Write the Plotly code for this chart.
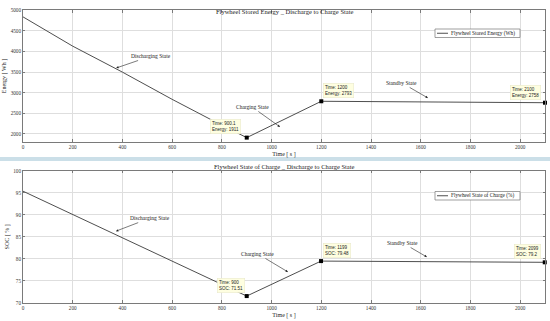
import plotly.graph_objects as go

# ---------------- data ----------------
time_s = [0, 200, 400, 600, 800, 900.1, 1200, 2100]
energy_wh = [4840, 4130, 3500, 2840, 2210, 1911, 2793, 2758]

time_soc = [0, 200, 400, 600, 800, 900, 1199, 2099]
soc_pct = [95.4, 90.1, 84.8, 79.5, 74.2, 71.51, 79.48, 79.2]

tip_time_e = [900.1, 1200, 2100]
tip_energy = [1911, 2793, 2758]
tip_time_s = [900, 1199, 2099]
tip_soc = [71.51, 79.48, 79.2]

x_ticks = list(range(0, 2001, 200))
e_ticks = [2000, 2500, 3000, 3500, 4000, 4500, 5000]
s_ticks = [70, 75, 80, 85, 90, 95, 100]

title_top = "Flywheel Stored Energy _ Discharge to Charge State"
title_bot = "Flywheel State of Charge _ Discharge to Charge State"
legend_top = "Flywheel Stored Energy (Wh)"
legend_bot = "Flywheel State of Charge (%)"

W, H = 550, 321
FONT = "Liberation Serif"
LINE = "#3a3a3a"
GRID = "#dedede"
AX = "#7a7a7a"


def px(x):
    return x / W


def py(y):
    return 1 - y / H


fig = go.Figure()
fig.add_trace(go.Scatter(x=time_s, y=energy_wh, mode="lines",
                         line=dict(color=LINE, width=0.9), xaxis="x", yaxis="y",
                         showlegend=False))
fig.add_trace(go.Scatter(x=tip_time_e, y=tip_energy, mode="markers",
                         marker=dict(symbol="square", size=4, color="black"),
                         xaxis="x", yaxis="y", showlegend=False, cliponaxis=False))
fig.add_trace(go.Scatter(x=time_soc, y=soc_pct, mode="lines",
                         line=dict(color=LINE, width=0.9), xaxis="x2", yaxis="y2",
                         showlegend=False))
fig.add_trace(go.Scatter(x=tip_time_s, y=tip_soc, mode="markers",
                         marker=dict(symbol="square", size=4, color="black"),
                         xaxis="x2", yaxis="y2", showlegend=False, cliponaxis=False))

axis_common = dict(showgrid=True, gridcolor=GRID, gridwidth=0.8, automargin=False,
                   showline=True, linecolor=AX, linewidth=0.8, mirror="ticks",
                   ticks="inside", ticklen=2.5, tickcolor=AX, tickwidth=0.8,
                   zeroline=False, tickfont=dict(family=FONT, size=5.2, color="#333"))

xdom = [px(23), px(545)]
fig.update_layout(
    width=W, height=H, margin=dict(l=0, r=0, t=0, b=0),
    paper_bgcolor="white", plot_bgcolor="white",
    font=dict(family=FONT, color="#222"),
    xaxis=dict(domain=xdom, range=[0, 2100], tickvals=x_ticks, anchor="y",
               title=dict(text="Time [ s ]", font=dict(size=6, family=FONT, color="#222"), standoff=2),
               **axis_common),
    yaxis=dict(domain=[py(141.7), py(10.3)], range=[1812, 5000], tickvals=e_ticks,
               anchor="x",
               title=dict(text="Energy [ Wh ]", font=dict(size=6, family=FONT, color="#222"), standoff=3),
               **axis_common),
    xaxis2=dict(domain=xdom, range=[0, 2100], tickvals=x_ticks, anchor="y2",
                title=dict(text="Time [ s ]", font=dict(size=6, family=FONT, color="#222"), standoff=2),
                **axis_common),
    yaxis2=dict(domain=[py(302.7), py(171)], range=[70, 100], tickvals=s_ticks,
                anchor="x2",
                title=dict(text="SOC [ % ]", font=dict(size=6, family=FONT, color="#222"), standoff=3),
                **axis_common),
)

shapes = []
annots = []

# divider band
shapes.append(dict(type="rect", xref="paper", yref="paper", x0=0, x1=1,
                   y0=py(161), y1=py(157), fillcolor="#cbdfe8", line=dict(width=0),
                   layer="below"))

# titles
annots.append(dict(xref="paper", yref="paper", x=px(284), y=py(6), text=title_top,
                   showarrow=False, font=dict(size=6.5, family=FONT, color="#222")))
annots.append(dict(xref="paper", yref="paper", x=px(284), y=py(166.5), text=title_bot,
                   showarrow=False, font=dict(size=6.5, family=FONT, color="#222")))

# legends (manual boxes)
for (y0, y1, txt) in [(29, 37.5, legend_top), (191.5, 200, legend_bot)]:
    shapes.append(dict(type="rect", xref="paper", yref="paper", x0=px(435), x1=px(520),
                       y0=py(y1), y1=py(y0), fillcolor="white",
                       line=dict(color="#777", width=0.7)))
    ym = (y0 + y1) / 2
    shapes.append(dict(type="line", xref="paper", yref="paper", x0=px(437), x1=px(448),
                       y0=py(ym), y1=py(ym), line=dict(color=LINE, width=0.9)))
    annots.append(dict(xref="paper", yref="paper", x=px(449), y=py(ym), text=txt,
                       xanchor="left", yanchor="middle", showarrow=False,
                       font=dict(size=5.3, family=FONT, color="#222")))

# state annotations with arrows
arrow_font = dict(size=5.5, family=FONT, color="#222")
state_notes = [
    ("x", "y", 375, 3600, "Discharging State", 35, -12),
    ("x", "y", 1034, 2170, "Charging State", -28, -20),
    ("x", "y", 1629, 2873, "Standby State", -26, -15),
    ("x2", "y2", 374, 86.3, "Discharging State", 34, -13),
    ("x2", "y2", 1066, 77.0, "Charging State", -30, -18),
    ("x2", "y2", 1625, 80.4, "Standby State", -24, -14),
]
for xr, yr, x, y, t, ax, ay in state_notes:
    annots.append(dict(xref=xr, yref=yr, x=x, y=y, text=t, showarrow=True,
                       ax=ax, ay=ay, arrowhead=2, arrowsize=0.8, arrowwidth=0.6,
                       arrowcolor="#222", font=arrow_font))

# data tips
tip_font = dict(size=4.5, family="Liberation Sans", color="#222")
tips = [
    ("x", "y", tip_time_e[0], tip_energy[0], f"Time: {tip_time_e[0]}<br>Energy: {tip_energy[0]}", "right", -6, 4),
    ("x", "y", tip_time_e[1], tip_energy[1], f"Time: {tip_time_e[1]}<br>Energy: {tip_energy[1]}", "left", 2, 3),
    ("x", "y", tip_time_e[2], tip_energy[2], f"Time: {tip_time_e[2]}<br>Energy: {tip_energy[2]}", "right", -4, 3),
    ("x2", "y2", tip_time_s[0], tip_soc[0], f"Time: {tip_time_s[0]}<br>SOC: {tip_soc[0]}", "right", -2, 3),
    ("x2", "y2", tip_time_s[1], tip_soc[1], f"Time: {tip_time_s[1]}<br>SOC: {tip_soc[1]}", "left", 2, 3),
    ("x2", "y2", tip_time_s[2], tip_soc[2], f"Time: {tip_time_s[2]}<br>SOC: {tip_soc[2]}", "right", -4, 3),
]
for xr, yr, x, y, t, xa, xs, ys in tips:
    annots.append(dict(xref=xr, yref=yr, x=x, y=y, text=t, showarrow=False,
                       xanchor=xa, yanchor="bottom", xshift=xs, yshift=ys,
                       align="left", bgcolor="#fefee0", bordercolor="#e6e6c8",
                       borderwidth=0.5, borderpad=1.5, font=tip_font))

fig.update_layout(shapes=shapes, annotations=annots)
fig.write_html("out.html", config={"displayModeBar": False},
               post_script="document.body.style.margin='0';document.body.style.overflow='hidden';")
